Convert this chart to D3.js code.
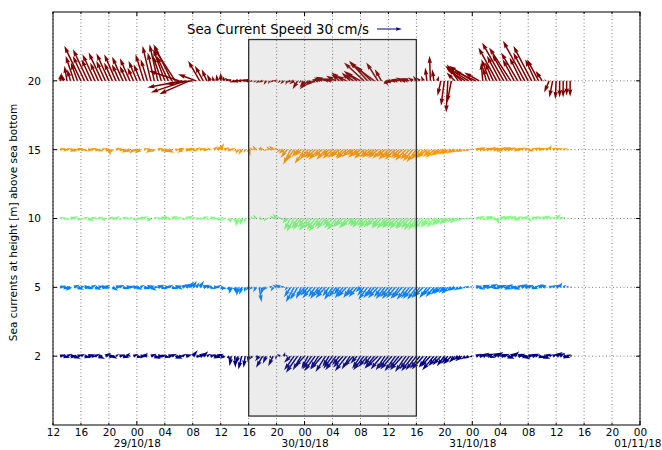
<!DOCTYPE html>
<html><head><meta charset="utf-8">
<script src="https://cdn.jsdelivr.net/npm/d3@7"></script>
<style>body{margin:0;background:#fff}svg{display:block}text{font-family:"DejaVu Sans",sans-serif}</style>
</head><body><svg id="c" width="662" height="450"></svg>
<script>
// ---------- DATA ----------
const levelLabels = ["2", "5", "10", "15", "20"];
const levelColors = ["#000080", "#0080ff", "#7bff7b", "#ff9700", "#800000"];
const startTime = Date.UTC(2018, 9, 28, 13, 0); // first sample 28/10/18 13:00
const stepMinutes = 30;
const axisStart = Date.UTC(2018, 9, 28, 12, 0);
const axisEnd = Date.UTC(2018, 10, 1, 0, 0);
const shadeStart = Date.UTC(2018, 9, 29, 16, 0);
const shadeEnd = Date.UTC(2018, 9, 30, 16, 0);
const shadeLow = 0.13, shadeHigh = 5.6;
const keySpeed = 30; // cm/s
const titleText = "Sea Current Speed 30 cm/s";
const yTitle = "Sea currents at height [m] above sea bottom";

// u (east) and v (north) components in cm/s, one value every 30 minutes
const u2 = [7,8,6,9,8,7,5,8,9,7, 6,8,-5,7,9,6,4,7,8,5, -4,6,7,8,5,-6,7,8,9,6, 7,8,6,9,7,5,8,-5,6,7, 8,6,5,7,9,8,6,-5,4,-2, 1,-3,-4,-2,-1,
 -3,4,-5,-8,-4,3,-6,-2,-4,2, -3,-8,-12,-14,-10,-12,-8,-11,-13,-10, -14,-12,-8,-11,-13,-9,-12,-14,-10,-12, -8,-10,-13,-11,-9,-12,-14,-13,-11,-12, -14,-13,-12,-15,-13,-12,-14,
 -13,-12,-14,-10,-12,-14,-11,-10,-9,-8, -10,-7,-6,-8,-5,-6,-4,
 7,9,8,10,7,9,8,10,7,9, 8,6,9,10,7,8,9,6,8,10, 7,5,6,8,7,9,6,3];
const v2 = [2,-2,3,0,-3,2,3,-2,2,0, 3,-3,2,4,0,-3,3,2,-2,4, 2,3,-2,0,4,2,3,-3,0,2, -2,2,3,-3,0,3,2,2,7,0, 4,6,3,2,-2,3,0,-3,-5,-12, -14,-10,-16,-14,-8,
 -4,-2,-6,-14,-9,-3,-12,-4,3,5, 2,-8,-17,-20,-17,-13,-15,-16,-18,-15, -16,-19,-13,-15,-17,-11,-14,-18,-16,-13, -9,-15,-17,-13,-11,-15,-14,-16,-17,-15, -16,-18,-15,-17,-19,-16,-18,
 -17,-15,-16,-14,-13,-17,-12,-11,-12,-9, -10,-8,-5,-6,-4,-3,-1,
 3,2,4,3,-2,4,5,2,3,-3, 4,6,3,0,-4,2,3,2,-2,-3, 3,2,3,5,4,-2,2,1];

const u5 = [7,8,6,-6,7,8,5,9,7,6, 8,7,9,6,-5,7,8,6,7,9, 6,8,7,5,8,9,7,6,8,7, 8,6,7,9,5,7,8,6,5,4, 5,8,7,6,8,5,7,-3,4,-3, 2,-2,-3,-1,-4,
 -4,-3,3,-2,-5,4,-3,-5,-6,-4, -3,-8,-10,-9,-6,-10,-9,-11,-8,-10, -9,-12,-8,-10,-9,-7,-10,-11,-8,-9, -10,-6,-8,-11,-9,-10,-12,-9,-11,-10, -12,-11,-10,-12,-11,-10,-12,
 -11,-10,-12,-9,-11,-10,-8,-9,-7,-8, -6,-7,-5,-6,-4,-5,-3,
 8,7,9,8,10,7,9,8,10,7, 9,8,6,8,9,7,8,5,7,-6, -7,6,5,7,3,4,3,2];
const v5 = [2,-2,0,-4,3,-3,2,0,-2,3, -3,2,0,3,-2,-4,2,3,-2,0, 2,0,-3,3,-2,2,-4,0,3,-2, 0,3,-2,2,-3,4,5,7,8,6, 8,3,2,-2,0,3,-2,-4,-6,-8, -8,-10,-9,-6,-4,
 -3,-6,-18,-9,-4,2,-5,3,4,2, -4,-12,-18,-15,-14,-12,-10,-13,-12,-14, -10,-13,-11,-15,-12,-9,-13,-12,-13,-11, -12,-6,-10,-15,-13,-11,-13,-12,-14,-12, -14,-13,-14,-13,-15,-13,-14,
 -15,-13,-12,-13,-11,-12,-9,-8,-7,-8, -5,-4,-4,-3,-1,1,1,
 2,-3,3,0,4,-2,2,3,-2,4, 0,-3,3,4,2,3,-2,2,3,3, 4,2,3,4,6,3,2,1];

const u10 = [5,6,4,7,5,6,4,5,7,6, 4,6,5,-5,6,7,5,4,6,5, 4,5,6,7,5,6,-5,5,6,7, 6,5,7,6,4,5,6,5,4,6, 5,6,4,7,5,6,4,-3,4,-2, 2,-3,-2,-1,3,
 -2,-3,2,-4,-3,-2,-4,-5,-3,-4, -6,-8,-9,-7,-10,-8,-11,-9,-10,-12, -9,-11,-8,-10,-11,-8,-10,-9,-11,-7, -9,-10,-8,-11,-9,-10,-8,-11,-10,-9, -12,-10,-11,-9,-12,-10,-11,
 -10,-9,-11,-8,-10,-9,-7,-8,-6,-7, -5,-6,-4,-5,-3,-4,-3,
 6,7,5,8,6,7,3,7,8,6, 7,8,5,7,6,5,7,6,5,7, 6,5,4,6,5,3,3,2];
const v10 = [2,0,-2,2,3,-2,0,2,-3,2, 0,2,-3,-2,2,0,3,-2,2,0, 2,-3,0,2,3,-2,-4,2,0,3, 2,-2,3,0,2,-2,3,4,2,0, 0,3,-2,2,0,-3,2,-3,-4,-6, -7,-10,-8,-5,-2,
 3,5,3,-2,-4,2,4,6,3,-2, -6,-14,-16,-12,-14,-11,-15,-12,-14,-16, -11,-13,-9,-12,-14,-11,-10,-12,-11,-8, -10,-11,-9,-12,-11,-10,-11,-12,-13,-10, -12,-11,-13,-12,-13,-12,-14,
 -14,-12,-13,-11,-10,-11,-9,-8,-8,-6, -5,-6,-4,-3,-2,-1,1,
 2,3,-2,3,2,-2,-7,3,2,4, 3,-2,3,2,3,-4,2,3,2,3, 4,2,2,5,2,2,0,1];

const u15 = [6,7,5,8,6,7,6,5,7,6, 7,6,5,8,2,-3,6,7,5,-6, -7,-5,-6,-7,5,7,-6,-5,6,7, 8,7,-5,6,7,-6,8,7,6,5, 6,7,-3,-4,5,6,4,6,7,5, 3,-3,-4,-2,2,
 -3,-4,3,-5,-3,-4,-5,-3,-4,-6, -8,-9,-10,-7,-8,-12,-10,-9,-11,-12, -10,-11,-9,-12,-10,-11,-9,-12,-10,-8, -11,-10,-12,-9,-11,-10,-12,-11,-10,-12, -11,-13,-10,-12,-13,-11,-12,
 -12,-11,-10,-12,-9,-10,-8,-9,-7,-8, -6,-7,-5,-6,-4,-5,-3,
 7,8,6,8,7,9,8,7,9,8, 6,8,7,5,6,7,5,6,7,5, 6,3,5,6,4,5,3,2];
const v15 = [2,0,2,-2,0,2,0,-2,0,2, 0,-2,2,0,-7,-4,2,0,-2,-4, -3,-5,-2,-4,2,0,-4,-3,2,-2, -3,-4,-3,0,2,-4,0,2,-2,3, 2,0,2,3,4,5,8,3,0,2, -3,-5,-6,-4,-8,
 3,5,4,2,-2,4,5,3,-3,-5, -10,-18,-14,-9,-8,-17,-12,-10,-11,-12, -9,-12,-8,-11,-10,-9,-10,-11,-9,-7, -10,-8,-11,-9,-10,-9,-10,-11,-9,-12, -10,-12,-10,-11,-13,-12,-14,
 -15,-12,-11,-10,-9,-10,-8,-7,-6,-6, -5,-4,-3,-3,-2,-1,1,
 2,3,0,2,3,2,-2,3,3,2, 3,0,2,3,2,-2,2,3,2,2, 3,6,3,2,2,2,0,0];

const u20 = [2,-2,-3,-4,-10,-8,-20,-14,-18,-12, -15,-10,-16,-11,-15,-10,-14,-9,-13,-8, -12,-7,-10,-8,-10,-8,-10,-8,-10,-10, -14,-14,-22,-26,-36,-42,-42,-36,-32,-22, -14,-10,-6,-4,-2,-1,0,-2,-4,-6, -6,-8,-7,-6,-8,
 -4,-3,-4,-5,-3,-2,-4,-5,-3,-4, -2,-5,-6,-6,-3,-6,-10,-8,-6,-8, -10,-12,-9,-10,-12,-10,-14,-12,-10,-12, -16,-18,-24,-22,-18,-30,-14,-8,4,-6, -10,-8,-10,-8,-9,-10,-6,
 -4,-4,-3,-2,-1,-2,2,-4,-4,-2, -5,-10,-14,-20,-22,-26,-28,
 -26,-18,-2,-4,-10,-10,-22,-16,-26,-18, -26,-14,-20,-14,-26,-18,-22,-12,-14,-8, -2,-6,-4,-1,0,0,0,0];
const v20 = [10,8,18,14,30,22,42,30,38,26, 32,22,34,24,33,22,32,20,29,18, 27,16,24,20,32,26,42,34,44,30, 38,30,44,40,12,-8,-14,-16,-4,8, 24,18,14,8,6,8,10,6,4,2, -2,-1,0,1,1,
 -1,-2,-3,-2,-5,-4,-2,0,-3,-4, -5,-2,-4,-10,-3,-8,-10,-6,-3,2, 4,5,3,2,6,8,10,6,10,8, 12,10,22,24,18,22,22,14,-6,-4, -2,0,2,4,2,3,4,
 6,4,6,16,30,14,6,-18,-30,-38, -26,10,20,18,14,16,18,
 12,10,22,16,26,22,40,30,46,32, 40,26,34,28,48,34,42,26,26,12, 2,-14,-20,-22,-20,-20,-18,-19];

const seriesU = [u2, u5, u10, u15, u20];
const seriesV = [v2, v5, v10, v15, v20];

// ---------- LAYOUT ----------
const M = {l: 53, r: 640, t: 12, b: 425};
const svg = d3.select("#c");
const x = d3.scaleUtc().domain([axisStart, axisEnd]).range([M.l, M.r]);
const y = d3.scaleLinear().domain([0, 6]).range([M.b, M.t]);
const spd = d3.scaleLinear().domain([0, keySpeed]).range([0, 25]); // cm/s -> px
const ARW = 1.5; // shaft width px

const hourTicks = d3.utcHour.every(4).range(axisStart, axisEnd + 1);
const dayTicks = d3.utcDay.range(axisStart, axisEnd + 1);

// grid
const g = svg.append("g");
g.selectAll(".vg").data(hourTicks).join("line")
  .attr("x1", d => x(d)).attr("x2", d => x(d)).attr("y1", M.t).attr("y2", M.b)
  .attr("stroke", "#444").attr("stroke-width", 0.7).attr("stroke-dasharray", "1,2.5");
g.selectAll(".hg").data(levelLabels).join("line")
  .attr("x1", M.l).attr("x2", M.r).attr("y1", (d, i) => y(i + 1)).attr("y2", (d, i) => y(i + 1))
  .attr("stroke", "#444").attr("stroke-width", 0.7).attr("stroke-dasharray", "1,2.5");

// quiver arrow polygon (matplotlib style)
function arrowPath(x0, y0, u, v, w) {
  const W = w || ARW;
  const Lpx = spd(Math.hypot(u, v));
  const l = Lpx / W, hl = 5, hw = 3, hal = 4.5, minsh = 5, minlen = 1;
  let X, Y;
  if (l < minlen) {
    X = []; Y = [];
    for (let k = 0; k < 8; k++) { X.push(Math.cos(k * Math.PI / 3) * 0.5 * minlen); Y.push(Math.sin(k * Math.PI / 3) * 0.5 * minlen); }
  } else if (l < minsh) {
    const s = l / minsh;
    X = [0, minsh - hal, minsh - hl, minsh, minsh - hl, minsh - hal, 0, 0].map(a => a * s);
    Y = [0.5, 0.5, hw / 2, 0, -hw / 2, -0.5, -0.5, 0.5].map(a => a * s);
  } else {
    X = [0, l - hal, l - hl, l, l - hl, l - hal, 0, 0];
    Y = [0.5, 0.5, hw / 2, 0, -hw / 2, -0.5, -0.5, 0.5];
  }
  const th = Math.atan2(-v, u), c = Math.cos(th), s = Math.sin(th);
  return "M" + X.map((a, k) => {
    const px = a * W, py = Y[k] * W;
    return (x0 + px * c - py * s).toFixed(2) + "," + (y0 + px * s + py * c).toFixed(2);
  }).join("L") + "Z";
}

const arrowsG = svg.append("g");
seriesU.forEach((us, li) => {
  const vs = seriesV[li];
  const data = us.map((u, i) => ({t: startTime + i * stepMinutes * 60000, u, v: vs[i]}));
  arrowsG.append("g").selectAll("path").data(data).join("path")
    .attr("d", d => arrowPath(x(d.t), y(li + 1), d.u, d.v))
    .attr("fill", levelColors[li]);
});

// shaded period
svg.append("rect")
  .attr("x", x(shadeStart)).attr("width", x(shadeEnd) - x(shadeStart))
  .attr("y", y(shadeHigh)).attr("height", y(shadeLow) - y(shadeHigh))
  .attr("fill", "#808080").attr("fill-opacity", 0.15)
  .attr("stroke", "#333").attr("stroke-width", 1.3);

// title + key arrow
svg.append("text").attr("x", 187).attr("y", 34).attr("font-size", 13.3).text(titleText);
svg.append("path").attr("d", arrowPath(377, 29, keySpeed, 0, 1.2)).attr("fill", "#000080");

// axes
const fs = 10.5;
const fmtH = d3.utcFormat("%H"), fmtD = d3.utcFormat("%d/%m/%y");
const isDay = d => d3.utcDay.floor(d).getTime() === d.getTime();
const xb = svg.append("g").attr("transform", `translate(0,${M.b})`)
  .call(d3.axisBottom(x).tickValues(hourTicks).tickFormat(fmtH).tickSize(0).tickPadding(4));
xb.select(".domain").remove();
xb.selectAll("text").attr("font-size", fs).attr("font-family", "DejaVu Sans").attr("fill", "#000");
const xd = svg.append("g").attr("transform", `translate(0,${M.b})`)
  .call(d3.axisBottom(x).tickValues(dayTicks).tickFormat(fmtD).tickSize(0).tickPadding(15));
xd.select(".domain").remove();
xd.selectAll("text").attr("font-size", fs).attr("font-family", "DejaVu Sans").attr("fill", "#000");
// keep the last date label inside the picture
xd.selectAll("text").each(function () {
  const b = this.getBBox(), gx = x(d3.select(this.parentNode).datum());
  if (gx + b.x + b.width > 661) d3.select(this).attr("x", 661 - (gx + b.x + b.width));
});

// inward ticks on all sides
const tk = svg.append("g").attr("stroke", "#000").attr("stroke-width", 1);
hourTicks.forEach(d => {
  const len = isDay(d) ? 4 : 2;
  tk.append("line").attr("x1", x(d)).attr("x2", x(d)).attr("y1", M.b).attr("y2", M.b - len);
  tk.append("line").attr("x1", x(d)).attr("x2", x(d)).attr("y1", M.t).attr("y2", M.t + len);
});
const yl = svg.append("g").attr("transform", `translate(${M.l},0)`)
  .call(d3.axisLeft(y).tickValues([1, 2, 3, 4, 5]).tickFormat((d, i) => levelLabels[i]).tickSize(0).tickPadding(12));
yl.select(".domain").remove();
yl.selectAll("text").attr("font-size", fs).attr("font-family", "DejaVu Sans").attr("fill", "#000");
[1, 2, 3, 4, 5].forEach(d => {
  tk.append("line").attr("x1", M.l).attr("x2", M.l + 4).attr("y1", y(d)).attr("y2", y(d));
  tk.append("line").attr("x1", M.r).attr("x2", M.r - 4).attr("y1", y(d)).attr("y2", y(d));
});

svg.append("rect").attr("x", M.l).attr("y", M.t).attr("width", M.r - M.l).attr("height", M.b - M.t)
  .attr("fill", "none").attr("stroke", "#000").attr("stroke-width", 1);

svg.append("text").attr("transform", `translate(17,${(M.t + M.b) / 2 + 4}) rotate(-90)`)
  .attr("text-anchor", "middle").attr("font-size", 10.5).text(yTitle);
</script></body></html>
